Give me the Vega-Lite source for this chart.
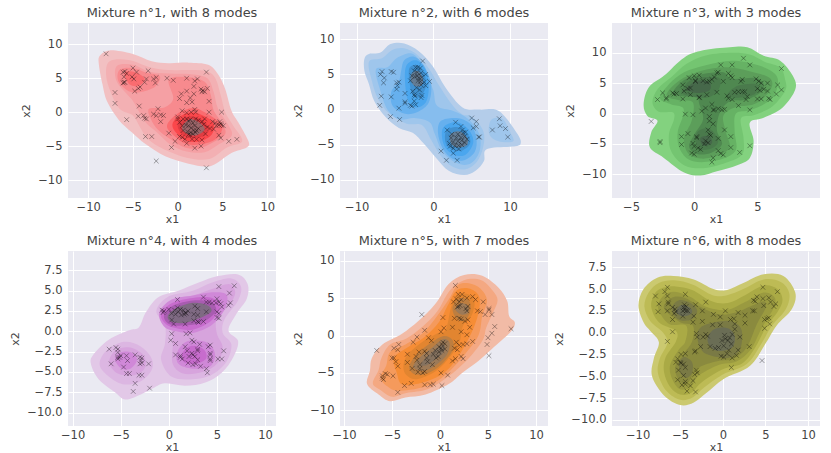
{"$schema":"https://vega.github.io/schema/vega-lite/v6.json","background":"white","padding":{"left":9,"top":7,"right":0,"bottom":3},"columns":3,"spacing":{"row":53,"column":64},"bounds":"flush","resolve":{"scale":{"color":"independent"}},"config":{"view":{"fill":"#EAEAF2","stroke":null},"font":"DejaVu Sans","axis":{"grid":true,"gridColor":"white","gridWidth":1,"domain":false,"ticks":false,"labelFont":"DejaVu Sans","labelFontSize":11.5,"labelColor":"#444444","labelPadding":6,"titleFont":"DejaVu Sans","titleFontSize":11,"titleFontWeight":"normal","titleColor":"#444444"},"axisX":{"labelPadding":3,"titlePadding":1},"axisY":{"labelPadding":6,"titlePadding":6},"title":{"font":"DejaVu Sans","fontSize":12.9,"fontWeight":"normal","color":"#444444","offset":3}},
"datasets":{
"c1":[{"l":0,"x":-8.7,"y":8.3},{"l":0,"x":-7.6,"y":9.1},{"l":0,"x":-5.1,"y":8.6},{"l":0,"x":-2.9,"y":7.5},{"l":0,"x":-1,"y":7.2},{"l":0,"x":1.2,"y":7.3},{"l":0,"x":3.4,"y":7},{"l":0,"x":4.5,"y":5.6},{"l":0,"x":5.3,"y":3.4},{"l":0,"x":6,"y":0.2},{"l":0,"x":6.9,"y":-1.8},{"l":0,"x":7.9,"y":-4.3},{"l":0,"x":7.7,"y":-5.2},{"l":0,"x":6,"y":-6},{"l":0,"x":4.1,"y":-7.7},{"l":0,"x":3,"y":-8},{"l":0,"x":1.2,"y":-7.6},{"l":0,"x":-1.4,"y":-6.5},{"l":0,"x":-3.6,"y":-4.7},{"l":0,"x":-5.1,"y":-3},{"l":0,"x":-6.6,"y":-1.1},{"l":0,"x":-7.9,"y":1.6},{"l":0,"x":-8.4,"y":4.1},{"l":0,"x":-8.8,"y":7},
{"l":1,"x":-7.6,"y":7.5},{"l":1,"x":-5.5,"y":7.7},{"l":1,"x":-3,"y":6.6},{"l":1,"x":-1,"y":6.2},{"l":1,"x":1.5,"y":6.2},{"l":1,"x":3.3,"y":6},{"l":1,"x":4.2,"y":5},{"l":1,"x":4.8,"y":2.5},{"l":1,"x":5.3,"y":0},{"l":1,"x":6.2,"y":-2},{"l":1,"x":7.2,"y":-4.3},{"l":1,"x":5.5,"y":-5.2},{"l":1,"x":3.5,"y":-6.9},{"l":1,"x":1,"y":-6.7},{"l":1,"x":-1.5,"y":-5.5},{"l":1,"x":-3.3,"y":-4},{"l":1,"x":-4.3,"y":-2},{"l":1,"x":-5,"y":-0.5},{"l":1,"x":-6.5,"y":0.5},{"l":1,"x":-7.5,"y":3},{"l":1,"x":-8,"y":5.5},
{"l":2,"x":-6.8,"y":6.8},{"l":2,"x":-5,"y":7},{"l":2,"x":-3.2,"y":6},{"l":2,"x":-1,"y":5.7},{"l":2,"x":1.5,"y":5.6},{"l":2,"x":3.3,"y":5},{"l":2,"x":4,"y":3},{"l":2,"x":4.5,"y":0.5},{"l":2,"x":5.7,"y":-2},{"l":2,"x":6,"y":-3.5},{"l":2,"x":4.5,"y":-4.8},{"l":2,"x":3,"y":-5.9},{"l":2,"x":1,"y":-5.8},{"l":2,"x":-0.8,"y":-4.8},{"l":2,"x":-2.3,"y":-3},{"l":2,"x":-3.6,"y":-1.5},{"l":2,"x":-4.5,"y":0.5},{"l":2,"x":-5.2,"y":2},{"l":2,"x":-6.8,"y":4.5},
{"l":3,"x":-1,"y":4.8},{"l":3,"x":1,"y":5.2},{"l":3,"x":3,"y":4.5},{"l":3,"x":3.7,"y":2.5},{"l":3,"x":4,"y":0.3},{"l":3,"x":5,"y":-1.7},{"l":3,"x":5.3,"y":-3.2},{"l":3,"x":4,"y":-4.4},{"l":3,"x":2.5,"y":-5.3},{"l":3,"x":0.8,"y":-5.2},{"l":3,"x":-0.8,"y":-4},{"l":3,"x":-2.2,"y":-2.6},{"l":3,"x":-3,"y":-1},{"l":3,"x":-3.2,"y":0.5},{"l":3,"x":-1.5,"y":0.7},{"l":3,"x":-0.5,"y":2},
{"l":3.1,"x":-6.5,"y":6.2},{"l":3.1,"x":-5,"y":6.5},{"l":3.1,"x":-3.5,"y":5.8},{"l":3.1,"x":-2,"y":5.3},{"l":3.1,"x":-2.5,"y":3.8},{"l":3.1,"x":-4,"y":3},{"l":3.1,"x":-5.3,"y":3},{"l":3.1,"x":-6.6,"y":4.5},
{"l":4,"x":0,"y":-0.2},{"l":4,"x":1.7,"y":0.6},{"l":4,"x":3,"y":0},{"l":4,"x":4.4,"y":-1.2},{"l":4,"x":5,"y":-2.2},{"l":4,"x":4.4,"y":-3.8},{"l":4,"x":2.8,"y":-4.7},{"l":4,"x":1,"y":-4.7},{"l":4,"x":-0.3,"y":-3.6},{"l":4,"x":-1.2,"y":-2},
{"l":4.1,"x":-5.9,"y":5.8},{"l":4.1,"x":-4.8,"y":5.9},{"l":4.1,"x":-3.7,"y":5},{"l":4.1,"x":-4.3,"y":3.9},{"l":4.1,"x":-5.4,"y":4.1},
{"l":5,"x":0,"y":-0.8},{"l":5,"x":1.5,"y":0},{"l":5,"x":3,"y":-0.6},{"l":5,"x":4,"y":-1.7},{"l":5,"x":3.8,"y":-3.3},{"l":5,"x":2.5,"y":-4.3},{"l":5,"x":1,"y":-4.2},{"l":5,"x":-0.2,"y":-3},{"l":5,"x":-0.6,"y":-1.8},
{"l":6,"x":0.3,"y":-1.2},{"l":6,"x":1.5,"y":-0.6},{"l":6,"x":2.8,"y":-1.2},{"l":6,"x":3.4,"y":-2.2},{"l":6,"x":3,"y":-3.4},{"l":6,"x":1.8,"y":-3.8},{"l":6,"x":0.6,"y":-3.4},{"l":6,"x":0,"y":-2.2},
{"l":7,"x":0.7,"y":-1.7},{"l":7,"x":1.5,"y":-1},{"l":7,"x":2.6,"y":-1.7},{"l":7,"x":3,"y":-2.6},{"l":7,"x":2.1,"y":-3.4},{"l":7,"x":1.1,"y":-3.2},{"l":7,"x":0.5,"y":-2.5}],
"p1":[{"x":-8,"y":8.6},{"x":-6.1,"y":5.9},{"x":-5.9,"y":6},{"x":-5.7,"y":5.7},{"x":-6,"y":5.2},{"x":-6,"y":4.4},{"x":-6.1,"y":4.3},{"x":-5.9,"y":4.4},{"x":-5,"y":6.5},{"x":-4.6,"y":5.9},{"x":-5.1,"y":5.2},{"x":-4.9,"y":4.9},{"x":-3.3,"y":6.1},{"x":-3.5,"y":4.9},{"x":-3.7,"y":4.4},{"x":-4.2,"y":3.7},{"x":-4.4,"y":3.5},{"x":-4.8,"y":3.1},{"x":-2.7,"y":4.9},{"x":-2.4,"y":5.1},{"x":-2.5,"y":4.3},{"x":-1.2,"y":5},{"x":-0.5,"y":4.7},{"x":1,"y":5},{"x":2.2,"y":4.9},{"x":1.9,"y":4.6},{"x":3.2,"y":5.9},{"x":-7,"y":2.9},{"x":-7,"y":1.3},{"x":-5.7,"y":-1.1},{"x":-4.3,"y":0.9},{"x":-4.4,"y":-0.6},{"x":-3.8,"y":-0.5},{"x":-3.7,"y":-0.9},{"x":-3.5,"y":-1},{"x":-2.7,"y":-0.3},{"x":-2.4,"y":-0.5},{"x":-2.2,"y":0.5},{"x":-1.9,"y":-0.4},{"x":-1.9,"y":-1.4},{"x":-1.6,"y":-0.5},{"x":-3.6,"y":-3.6},{"x":-2.9,"y":-3.6},{"x":-2.4,"y":-7.2},{"x":-1,"y":-3.1},{"x":-0.7,"y":-5.2},{"x":-0.3,"y":-4.3},{"x":0.2,"y":-3.6},{"x":0.2,"y":2},{"x":0.4,"y":2.7},{"x":1,"y":3.1},{"x":1.4,"y":2.1},{"x":1.8,"y":2.7},{"x":1.8,"y":3.8},{"x":2.6,"y":3.4},{"x":2.8,"y":3.2},{"x":2.7,"y":3},{"x":3,"y":3},{"x":3.3,"y":3.5},{"x":3.5,"y":1.6},{"x":1,"y":1.4},{"x":1.6,"y":1.5},{"x":3.5,"y":0},{"x":4.9,"y":0},{"x":0.5,"y":0.2},{"x":1,"y":-0.1},{"x":1.5,"y":0},{"x":1.9,"y":0.4},{"x":2,"y":0},{"x":0,"y":-0.7},{"x":0,"y":-1},{"x":0.2,"y":-1.5},{"x":0.6,"y":-1},{"x":1,"y":-1},{"x":1.2,"y":-1.3},{"x":1.4,"y":-1.1},{"x":1.7,"y":-1.6},{"x":2,"y":-1},{"x":2.3,"y":-1.2},{"x":2.7,"y":-1.4},{"x":2.9,"y":-1.8},{"x":0.5,"y":-2},{"x":0.9,"y":-1.9},{"x":1.2,"y":-2},{"x":1.5,"y":-2.3},{"x":1.9,"y":-2},{"x":2.3,"y":-2.4},{"x":0.6,"y":-2.7},{"x":1.1,"y":-2.9},{"x":1.4,"y":-3},{"x":1.8,"y":-2.7},{"x":2.1,"y":-2.7},{"x":1.2,"y":-3.3},{"x":1.4,"y":-3.4},{"x":1.7,"y":-3.2},{"x":2,"y":-3},{"x":0.5,"y":-3.7},{"x":0.8,"y":-4},{"x":1,"y":-4.6},{"x":1.6,"y":-4},{"x":2.1,"y":-4},{"x":2.7,"y":-4.1},{"x":1.9,"y":-5.3},{"x":2.6,"y":-5},{"x":3.1,"y":-3.2},{"x":3.6,"y":-2.4},{"x":3.9,"y":-1.4},{"x":4.2,"y":-1.6},{"x":4.3,"y":-2},{"x":4.6,"y":-1.9},{"x":4.8,"y":-1.7},{"x":5.1,"y":-2},{"x":4.7,"y":-1.4},{"x":4.9,"y":-1.9},{"x":4.6,"y":-3.4},{"x":4.8,"y":-3.8},{"x":5.7,"y":-4.3},{"x":6.6,"y":-4},{"x":3.2,"y":-8.2},{"x":4,"y":-2.5},{"x":3,"y":-1},{"x":3.3,"y":-2.2}],
"c2":[{"l":0,"x":-9,"y":7.2},{"l":0,"x":-8.4,"y":7.9},{"l":0,"x":-6.9,"y":8.1},{"l":0,"x":-5.6,"y":9.3},{"l":0,"x":-3.8,"y":9.4},{"l":0,"x":-1.9,"y":8.3},{"l":0,"x":-0.1,"y":6.2},{"l":0,"x":1.6,"y":3.1},{"l":0,"x":3.8,"y":0.3},{"l":0,"x":6,"y":0},{"l":0,"x":8.1,"y":0},{"l":0,"x":9.4,"y":-1.1},{"l":0,"x":11,"y":-3.5},{"l":0,"x":11.4,"y":-4.7},{"l":0,"x":10.7,"y":-5.2},{"l":0,"x":7,"y":-5.6},{"l":0,"x":6.6,"y":-7.3},{"l":0,"x":5.5,"y":-8.7},{"l":0,"x":4,"y":-9.3},{"l":0,"x":2,"y":-8.7},{"l":0,"x":0.3,"y":-6.8},{"l":0,"x":-1.2,"y":-4.9},{"l":0,"x":-2.7,"y":-3.3},{"l":0,"x":-4.5,"y":-2.6},{"l":0,"x":-6.2,"y":-1.1},{"l":0,"x":-7.7,"y":1.2},{"l":0,"x":-8.4,"y":3.6},{"l":0,"x":-9,"y":5.5},
{"l":1,"x":-8.4,"y":6.8},{"l":1,"x":-6.7,"y":7.3},{"l":1,"x":-5.3,"y":8.5},{"l":1,"x":-3.8,"y":8.7},{"l":1,"x":-2,"y":7.7},{"l":1,"x":-0.5,"y":5.7},{"l":1,"x":0.8,"y":3.3},{"l":1,"x":2.5,"y":0.6},{"l":1,"x":3.8,"y":-0.7},{"l":1,"x":5,"y":-1},{"l":1,"x":6.5,"y":-3},{"l":1,"x":6.5,"y":-5.3},{"l":1,"x":5.6,"y":-7.5},{"l":1,"x":4,"y":-8.5},{"l":1,"x":2.2,"y":-7.9},{"l":1,"x":0.8,"y":-6.3},{"l":1,"x":-0.3,"y":-4.3},{"l":1,"x":-1.5,"y":-2.2},{"l":1,"x":-3.5,"y":-2},{"l":1,"x":-5.8,"y":-0.5},{"l":1,"x":-7.2,"y":1.5},{"l":1,"x":-8,"y":4},
{"l":1.1,"x":7.5,"y":-1.5},{"l":1.1,"x":9,"y":-1.3},{"l":1.1,"x":10,"y":-3.2},{"l":1.1,"x":10.4,"y":-4.5},{"l":1.1,"x":8.5,"y":-4.5},{"l":1.1,"x":7.3,"y":-3.5},
{"l":2,"x":-7.5,"y":5.7},{"l":2,"x":-6,"y":6},{"l":2,"x":-4.8,"y":7.3},{"l":2,"x":-3,"y":8},{"l":2,"x":-1.8,"y":7},{"l":2,"x":-0.8,"y":5},{"l":2,"x":0,"y":2.7},{"l":2,"x":0.5,"y":0.5},{"l":2,"x":2.6,"y":-0.2},{"l":2,"x":4.5,"y":-1.3},{"l":2,"x":6,"y":-3.5},{"l":2,"x":6,"y":-6},{"l":2,"x":4.8,"y":-7.7},{"l":2,"x":3,"y":-7.6},{"l":2,"x":1.2,"y":-6},{"l":2,"x":0.2,"y":-3.5},{"l":2,"x":-0.5,"y":-1.8},{"l":2,"x":-2.5,"y":-1.2},{"l":2,"x":-4.5,"y":-1.4},{"l":2,"x":-6,"y":0},{"l":2,"x":-7,"y":3},
{"l":3,"x":-3.8,"y":7},{"l":3,"x":-2.5,"y":7.5},{"l":3,"x":-1.2,"y":6.2},{"l":3,"x":-0.3,"y":3.6},{"l":3,"x":-0.6,"y":1},{"l":3,"x":-2,"y":-0.3},{"l":3,"x":-3.7,"y":-0.6},{"l":3,"x":-5.3,"y":0.5},{"l":3,"x":-5.5,"y":2.5},{"l":3,"x":-4.5,"y":4},{"l":3,"x":-4.2,"y":5.5},
{"l":3.1,"x":1,"y":-1.6},{"l":3.1,"x":3,"y":-1.2},{"l":3.1,"x":4.8,"y":-2},{"l":3.1,"x":5.6,"y":-4},{"l":3.1,"x":5.4,"y":-6},{"l":3.1,"x":4,"y":-7.2},{"l":3.1,"x":2.5,"y":-7},{"l":3.1,"x":1.2,"y":-5.5},{"l":3.1,"x":0.6,"y":-3.3},
{"l":4,"x":-3.5,"y":6.3},{"l":4,"x":-2.2,"y":7},{"l":4,"x":-1,"y":5.6},{"l":4,"x":-0.6,"y":3.2},{"l":4,"x":-1,"y":1},{"l":4,"x":-2.3,"y":0.3},{"l":4,"x":-3.3,"y":1.3},{"l":4,"x":-3.7,"y":4},
{"l":4.1,"x":1.5,"y":-2.3},{"l":4.1,"x":3.2,"y":-1.8},{"l":4.1,"x":4.7,"y":-3},{"l":4.1,"x":5.2,"y":-4.7},{"l":4.1,"x":4.2,"y":-6.4},{"l":4.1,"x":2.7,"y":-6.4},{"l":4.1,"x":1.5,"y":-5.3},{"l":4.1,"x":1.1,"y":-3.5},
{"l":5,"x":-3.2,"y":5.6},{"l":5,"x":-2.2,"y":6.3},{"l":5,"x":-1.2,"y":5.2},{"l":5,"x":-1,"y":3.2},{"l":5,"x":-1.8,"y":1.8},{"l":5,"x":-2.8,"y":2.3},
{"l":5.1,"x":1.7,"y":-3},{"l":5.1,"x":3.2,"y":-2.5},{"l":5.1,"x":4.5,"y":-3.5},{"l":5.1,"x":4.8,"y":-4.8},{"l":5.1,"x":3.8,"y":-5.8},{"l":5.1,"x":2.4,"y":-5.7},{"l":5.1,"x":1.6,"y":-4.7},
{"l":6,"x":-2.9,"y":5},{"l":6,"x":-2.1,"y":5.5},{"l":6,"x":-1.4,"y":4.6},{"l":6,"x":-1.5,"y":3.5},{"l":6,"x":-2.3,"y":3.3},{"l":6,"x":-2.9,"y":4},
{"l":6.1,"x":2.2,"y":-3.6},{"l":6.1,"x":3.4,"y":-3.1},{"l":6.1,"x":4.4,"y":-4},{"l":6.1,"x":4.4,"y":-5},{"l":6.1,"x":3.4,"y":-5.4},{"l":6.1,"x":2.4,"y":-5}],
"p2":[{"x":-1.4,"y":6.9},{"x":-2.3,"y":6},{"x":-2,"y":6},{"x":-1.7,"y":5.9},{"x":-2.5,"y":5.5},{"x":-2.1,"y":5.3},{"x":-1.6,"y":5.2},{"x":-1,"y":5},{"x":-2.8,"y":4.8},{"x":-2.4,"y":4.7},{"x":-2.1,"y":4.8},{"x":-1.9,"y":4.5},{"x":-1.5,"y":4.6},{"x":-3,"y":4.1},{"x":-2,"y":4.1},{"x":-1.7,"y":4},{"x":-0.5,"y":4},{"x":-1.2,"y":3.9},{"x":-1.6,"y":3.5},{"x":-1,"y":3.4},{"x":-2.2,"y":3.1},{"x":-1.8,"y":2.8},{"x":-2.7,"y":2.6},{"x":-2.5,"y":2.1},{"x":-2.4,"y":1.9},{"x":-1.5,"y":2},{"x":-1.6,"y":1.7},{"x":-2.5,"y":1.2},{"x":-3.7,"y":2.3},{"x":-3.7,"y":1.1},{"x":-3.7,"y":0.9},{"x":-3,"y":0.6},{"x":-2.8,"y":0.5},{"x":-2.3,"y":0.7},{"x":-4.5,"y":3.9},{"x":-4.8,"y":3.8},{"x":-4.7,"y":3.4},{"x":-4.8,"y":2.9},{"x":-5.5,"y":5.4},{"x":-5.2,"y":5.3},{"x":-6.7,"y":5.4},{"x":-6.9,"y":5},{"x":-6.4,"y":4.5},{"x":-6.5,"y":3.8},{"x":-6.8,"y":1.9},{"x":-5.5,"y":1.8},{"x":-7,"y":0.6},{"x":-4.5,"y":0.2},{"x":-5.6,"y":-1},{"x":-4.4,"y":-1.4},{"x":5,"y":-1.2},{"x":5.6,"y":-1.7},{"x":5.6,"y":-2.4},{"x":5.2,"y":-2.6},{"x":4.2,"y":-3.2},{"x":3.8,"y":-2.9},{"x":3.6,"y":-2.4},{"x":2.9,"y":-1.8},{"x":1.8,"y":-2.9},{"x":2.4,"y":-3.5},{"x":3.2,"y":-3.5},{"x":3.9,"y":-3.3},{"x":2.3,"y":-4},{"x":3,"y":-4},{"x":3.6,"y":-4},{"x":4.1,"y":-3.8},{"x":4.4,"y":-4.2},{"x":5.9,"y":-3.9},{"x":6,"y":-3.9},{"x":2.1,"y":-4.8},{"x":2.6,"y":-4.6},{"x":3.2,"y":-4.5},{"x":3.7,"y":-4.4},{"x":4.1,"y":-4.7},{"x":2.2,"y":-5.2},{"x":2.8,"y":-5.1},{"x":3.3,"y":-5.1},{"x":3.7,"y":-5},{"x":2.6,"y":-5.5},{"x":3.3,"y":-5.6},{"x":1,"y":-5.9},{"x":2.6,"y":-6.2},{"x":1.7,"y":-7.2},{"x":3.1,"y":-7.2},{"x":7.7,"y":-2.9},{"x":8.6,"y":-1.3},{"x":8.7,"y":-2.3},{"x":9.4,"y":-2.7},{"x":9.7,"y":-3.9}],
"c3":[{"l":0,"x":-4,"y":1.5},{"l":0,"x":-3.6,"y":4.3},{"l":0,"x":-2.4,"y":6.2},{"l":0,"x":-0.8,"y":9.2},{"l":0,"x":0.7,"y":10.4},{"l":0,"x":2.8,"y":10.9},{"l":0,"x":4.2,"y":10.9},{"l":0,"x":5.5,"y":9.5},{"l":0,"x":6.8,"y":8.7},{"l":0,"x":7.8,"y":6.2},{"l":0,"x":8,"y":4},{"l":0,"x":7,"y":1},{"l":0,"x":5.5,"y":-0.7},{"l":0,"x":4.4,"y":-1.5},{"l":0,"x":4.7,"y":-4.5},{"l":0,"x":4.4,"y":-7.3},{"l":0,"x":3.4,"y":-8.5},{"l":0,"x":1.8,"y":-9.5},{"l":0,"x":0.5,"y":-10.2},{"l":0,"x":-0.8,"y":-9.7},{"l":0,"x":-2.4,"y":-7.3},{"l":0,"x":-3.5,"y":-5.6},{"l":0,"x":-3.4,"y":-3.1},{"l":0,"x":-2.9,"y":-1.2},{"l":0,"x":-3.7,"y":-0.4},
{"l":1,"x":-3.3,"y":1.8},{"l":1,"x":-2.9,"y":4},{"l":1,"x":-1.8,"y":6},{"l":1,"x":-0.6,"y":8.2},{"l":1,"x":1,"y":9.6},{"l":1,"x":3,"y":10},{"l":1,"x":4.4,"y":9.7},{"l":1,"x":5.6,"y":8.5},{"l":1,"x":6.8,"y":7.6},{"l":1,"x":7.2,"y":5.5},{"l":1,"x":7.2,"y":3.8},{"l":1,"x":6.2,"y":1.2},{"l":1,"x":4.7,"y":-0.3},{"l":1,"x":3.7,"y":-0.8},{"l":1,"x":3.9,"y":-4},{"l":1,"x":3.8,"y":-6.7},{"l":1,"x":2.5,"y":-8.1},{"l":1,"x":0.7,"y":-9},{"l":1,"x":-0.8,"y":-8.5},{"l":1,"x":-1.8,"y":-6.3},{"l":1,"x":-2,"y":-3.5},{"l":1,"x":-1.6,"y":-1},{"l":1,"x":-1.7,"y":0.2},{"l":1,"x":-2.8,"y":0.3},
{"l":2,"x":-2.7,"y":2.5},{"l":2,"x":-2,"y":4.8},{"l":2,"x":-0.8,"y":6.8},{"l":2,"x":1,"y":8},{"l":2,"x":3,"y":8.7},{"l":2,"x":5,"y":8},{"l":2,"x":6.4,"y":6.5},{"l":2,"x":6.6,"y":4.5},{"l":2,"x":6,"y":2.2},{"l":2,"x":4.5,"y":0.6},{"l":2,"x":3.3,"y":0},{"l":2,"x":3.2,"y":-3},{"l":2,"x":3.3,"y":-6},{"l":2,"x":2.2,"y":-7.5},{"l":2,"x":0.6,"y":-8},{"l":2,"x":-0.5,"y":-7.5},{"l":2,"x":-1.2,"y":-5.5},{"l":2,"x":-1.3,"y":-3},{"l":2,"x":-0.9,"y":-0.5},{"l":2,"x":-0.9,"y":1},{"l":2,"x":-1.8,"y":1.5},
{"l":3,"x":-2.2,"y":3},{"l":3,"x":-1.2,"y":5.4},{"l":3,"x":0.5,"y":7},{"l":3,"x":2.5,"y":7.6},{"l":3,"x":4.3,"y":7},{"l":3,"x":6,"y":5.8},{"l":3,"x":6,"y":3.8},{"l":3,"x":4.8,"y":1.6},{"l":3,"x":3.2,"y":1},{"l":3,"x":2.3,"y":-0.4},{"l":3,"x":2.5,"y":-3},{"l":3,"x":2.8,"y":-5.6},{"l":3,"x":1.8,"y":-7},{"l":3,"x":0.5,"y":-7.4},{"l":3,"x":-0.5,"y":-6.5},{"l":3,"x":-0.8,"y":-4},{"l":3,"x":-0.2,"y":-1.2},{"l":3,"x":-0.1,"y":1.8},{"l":3,"x":-1.2,"y":2.2},
{"l":4,"x":-1.7,"y":3.3},{"l":4,"x":-0.8,"y":5.5},{"l":4,"x":0.7,"y":6.5},{"l":4,"x":2.3,"y":6.8},{"l":4,"x":3,"y":5.7},{"l":4,"x":5,"y":5.8},{"l":4,"x":5.5,"y":4},{"l":4,"x":4.2,"y":2.3},{"l":4,"x":2.8,"y":2},{"l":4,"x":2,"y":0},{"l":4,"x":1.8,"y":-2.8},{"l":4,"x":2.2,"y":-5},{"l":4,"x":1.4,"y":-6.4},{"l":4,"x":0.3,"y":-6.7},{"l":4,"x":-0.4,"y":-5.5},{"l":4,"x":0,"y":-3.5},{"l":4,"x":0.7,"y":-1},{"l":4,"x":0.4,"y":1.6},{"l":4,"x":0.2,"y":2.8},{"l":4,"x":-0.8,"y":2.8},
{"l":5,"x":-1,"y":3.5},{"l":5,"x":-0.4,"y":5.3},{"l":5,"x":0.8,"y":6},{"l":5,"x":2,"y":5.8},{"l":5,"x":1.9,"y":3.8},{"l":5,"x":1,"y":2.6},{"l":5,"x":-0.2,"y":2.8},
{"l":5.1,"x":0.2,"y":-3.2},{"l":5.1,"x":1.2,"y":-2.5},{"l":5.1,"x":1.9,"y":-4.5},{"l":5.1,"x":1.3,"y":-5.8},{"l":5.1,"x":0.3,"y":-5.7},
{"l":5.2,"x":2.6,"y":3},{"l":5.2,"x":3.5,"y":4.6},{"l":5.2,"x":5,"y":4.8},{"l":5.2,"x":4.8,"y":3.2},{"l":5.2,"x":3.5,"y":2.6},
{"l":6,"x":-0.6,"y":4},{"l":6,"x":0.2,"y":5.4},{"l":6,"x":1.2,"y":5.2},{"l":6,"x":1.2,"y":3.8},{"l":6,"x":0.2,"y":3.4},
{"l":6.1,"x":0.5,"y":-4},{"l":6.1,"x":1.2,"y":-3.7},{"l":6.1,"x":1.4,"y":-4.9},{"l":6.1,"x":0.7,"y":-5.3}],
"p3":[{"x":-3.4,"y":-1.3},{"x":-2.9,"y":2.3},{"x":-2.5,"y":3.4},{"x":-2.2,"y":2.6},{"x":-2.2,"y":2.4},{"x":-1.7,"y":3.4},{"x":-1.6,"y":3.2},{"x":-1.4,"y":3.3},{"x":-0.9,"y":2.4},{"x":-0.8,"y":3.7},{"x":-0.5,"y":4.1},{"x":-0.9,"y":4.7},{"x":-0.3,"y":3.1},{"x":-0.3,"y":4.2},{"x":0,"y":6.2},{"x":-0.4,"y":5.9},{"x":0.1,"y":5.4},{"x":0.4,"y":6.3},{"x":0.1,"y":5.3},{"x":0.4,"y":2.7},{"x":0.4,"y":2.6},{"x":1,"y":3.1},{"x":0.7,"y":5.4},{"x":1,"y":5.2},{"x":1.2,"y":5.3},{"x":1.4,"y":5.6},{"x":1.6,"y":6},{"x":1.8,"y":6.7},{"x":1.9,"y":6.8},{"x":2.1,"y":8},{"x":3,"y":8},{"x":3.9,"y":9.1},{"x":4.4,"y":8},{"x":6.9,"y":7.4},{"x":2.7,"y":6.6},{"x":2.9,"y":6.2},{"x":3,"y":5.9},{"x":2.3,"y":5.3},{"x":1.8,"y":3.5},{"x":1.4,"y":1.5},{"x":1.5,"y":0.6},{"x":1.6,"y":0.6},{"x":1.9,"y":0.8},{"x":2.2,"y":0.6},{"x":2.4,"y":0.7},{"x":0.6,"y":0.4},{"x":0.9,"y":0.9},{"x":-0.7,"y":-0.1},{"x":-0.1,"y":-0.2},{"x":1.2,"y":-0.5},{"x":1.2,"y":-1.2},{"x":1.5,"y":-1.7},{"x":1.1,"y":-2.7},{"x":2.4,"y":-2.7},{"x":2.9,"y":-3.8},{"x":2.6,"y":2.9},{"x":2.7,"y":2.5},{"x":3,"y":2.3},{"x":3.2,"y":3.5},{"x":3.5,"y":3.6},{"x":3.8,"y":3.6},{"x":4,"y":3.6},{"x":3.5,"y":1.3},{"x":4.2,"y":2.8},{"x":4.1,"y":2.3},{"x":4.4,"y":0.6},{"x":3.8,"y":5.6},{"x":3.7,"y":5.3},{"x":4.9,"y":5.7},{"x":5.1,"y":5.3},{"x":5.3,"y":5},{"x":5.8,"y":5},{"x":5,"y":4.1},{"x":5.2,"y":3.8},{"x":5.5,"y":4},{"x":5.8,"y":3.7},{"x":5,"y":2.4},{"x":5.3,"y":2.4},{"x":5.9,"y":2.5},{"x":6,"y":2.3},{"x":6.5,"y":3.2},{"x":6.6,"y":4.7},{"x":6.9,"y":3.9},{"x":-2.7,"y":-4.6},{"x":-2.7,"y":-4.8},{"x":-1,"y":-3.8},{"x":-0.5,"y":-3.3},{"x":-1,"y":-5.1},{"x":0.2,"y":-3.8},{"x":0.2,"y":-4},{"x":-0.1,"y":-4.9},{"x":0,"y":-5.4},{"x":0.3,"y":-5.7},{"x":0.5,"y":-5.9},{"x":-0.2,"y":-6.5},{"x":0,"y":-6.7},{"x":0.9,"y":-4.5},{"x":0.8,"y":-5},{"x":1.2,"y":-3.4},{"x":1.3,"y":-3.6},{"x":1.1,"y":-4.8},{"x":1.9,"y":-4.1},{"x":1.9,"y":-6.1},{"x":2.1,"y":-6.6},{"x":2.3,"y":-6.8},{"x":1.5,"y":-7.3},{"x":1.4,"y":-8},{"x":2.9,"y":-5.6},{"x":3.6,"y":-6.4},{"x":4.4,"y":-5.3}],
"c4":[{"l":0,"x":-8.1,"y":-4},{"l":0,"x":-7.8,"y":-2.8},{"l":0,"x":-6.2,"y":-1},{"l":0,"x":-4.2,"y":0.1},{"l":0,"x":-3.1,"y":0.5},{"l":0,"x":-2.4,"y":2.3},{"l":0,"x":-1.1,"y":4.2},{"l":0,"x":1,"y":5},{"l":0,"x":3.1,"y":6},{"l":0,"x":5.1,"y":6.8},{"l":0,"x":7.2,"y":7},{"l":0,"x":8.2,"y":5.8},{"l":0,"x":8.1,"y":4},{"l":0,"x":7,"y":2.1},{"l":0,"x":6.2,"y":0.1},{"l":0,"x":7.2,"y":-1.2},{"l":0,"x":6.7,"y":-3.2},{"l":0,"x":5.5,"y":-5.1},{"l":0,"x":3.8,"y":-6.3},{"l":0,"x":1.7,"y":-6.7},{"l":0,"x":-0.4,"y":-6.4},{"l":0,"x":-1.8,"y":-7.1},{"l":0,"x":-2.8,"y":-7.7},{"l":0,"x":-4.5,"y":-8.4},{"l":0,"x":-5.6,"y":-7.5},{"l":0,"x":-7.3,"y":-5.9},
{"l":1,"x":-7.2,"y":-4},{"l":1,"x":-6.5,"y":-2.4},{"l":1,"x":-4.7,"y":-1.3},{"l":1,"x":-3,"y":-1.8},{"l":1,"x":-1.8,"y":-3.3},{"l":1,"x":-1.8,"y":-4.8},{"l":1,"x":-3,"y":-6.2},{"l":1,"x":-4.8,"y":-6.5},{"l":1,"x":-6.5,"y":-5.3},
{"l":1.1,"x":-1.3,"y":2.5},{"l":1.1,"x":0,"y":4.3},{"l":1.1,"x":2.5,"y":5},{"l":1.1,"x":4.5,"y":6},{"l":1.1,"x":6.5,"y":6.5},{"l":1.1,"x":7.5,"y":5.5},{"l":1.1,"x":7.2,"y":3.8},{"l":1.1,"x":5.8,"y":1.5},{"l":1.1,"x":5.6,"y":-0.2},{"l":1.1,"x":6.5,"y":-1.6},{"l":1.1,"x":6,"y":-3.7},{"l":1.1,"x":4.5,"y":-5.3},{"l":1.1,"x":2.5,"y":-5.9},{"l":1.1,"x":0.3,"y":-5.6},{"l":1.1,"x":-0.8,"y":-3.5},{"l":1.1,"x":-0.4,"y":-1.5},{"l":1.1,"x":-0.4,"y":0.7},
{"l":2,"x":-6.2,"y":-3.8},{"l":2,"x":-5.5,"y":-2.3},{"l":2,"x":-4,"y":-2},{"l":2,"x":-2.6,"y":-3},{"l":2,"x":-2.5,"y":-4.5},{"l":2,"x":-3.6,"y":-5.4},{"l":2,"x":-5.3,"y":-5.2},
{"l":2.1,"x":-0.9,"y":2.3},{"l":2.1,"x":0.3,"y":3.8},{"l":2.1,"x":2.5,"y":4.4},{"l":2.1,"x":4.5,"y":5.2},{"l":2.1,"x":6.3,"y":5.8},{"l":2.1,"x":6.9,"y":4.8},{"l":2.1,"x":6.3,"y":3.2},{"l":2.1,"x":5,"y":1.6},{"l":2.1,"x":5,"y":-0.3},{"l":2.1,"x":5.6,"y":-2},{"l":2.1,"x":5,"y":-4},{"l":2.1,"x":3.5,"y":-5},{"l":2.1,"x":1.5,"y":-5.2},{"l":2.1,"x":0.4,"y":-4},{"l":2.1,"x":0.4,"y":-1.6},{"l":2.1,"x":0.2,"y":0.5},
{"l":3,"x":-5.6,"y":-3.4},{"l":3,"x":-5,"y":-2.6},{"l":3,"x":-3.9,"y":-2.6},{"l":3,"x":-3.3,"y":-3.5},{"l":3,"x":-4,"y":-4.6},{"l":3,"x":-5,"y":-4.5},
{"l":3.1,"x":-1,"y":2.3},{"l":3.1,"x":0.3,"y":3.9},{"l":3.1,"x":2.5,"y":4.4},{"l":3.1,"x":4.5,"y":4.8},{"l":3.1,"x":6,"y":4.5},{"l":3.1,"x":5.8,"y":2.7},{"l":3.1,"x":4.5,"y":0.8},{"l":3.1,"x":2.5,"y":-0.2},{"l":3.1,"x":0.8,"y":0},{"l":3.1,"x":-0.5,"y":0.6},
{"l":3.2,"x":0.9,"y":-2.5},{"l":3.2,"x":2,"y":-1.2},{"l":3.2,"x":4,"y":-1.4},{"l":3.2,"x":4.8,"y":-2.8},{"l":3.2,"x":4.3,"y":-4.3},{"l":3.2,"x":2.5,"y":-4.6},{"l":3.2,"x":1,"y":-4},
{"l":4,"x":-0.8,"y":2.2},{"l":4,"x":0.4,"y":3.5},{"l":4,"x":2.5,"y":4.1},{"l":4,"x":4.5,"y":4.1},{"l":4,"x":5.3,"y":3},{"l":4,"x":4.4,"y":1.3},{"l":4,"x":2.5,"y":0.2},{"l":4,"x":0.7,"y":0.4},{"l":4,"x":-0.4,"y":1},
{"l":4.1,"x":1.4,"y":-2.7},{"l":4.1,"x":2.3,"y":-1.8},{"l":4.1,"x":3.6,"y":-2.2},{"l":4.1,"x":3.9,"y":-3.3},{"l":4.1,"x":2.8,"y":-4},{"l":4.1,"x":1.6,"y":-3.8},
{"l":5,"x":-0.5,"y":2},{"l":5,"x":0.5,"y":3.2},{"l":5,"x":2.5,"y":3.8},{"l":5,"x":4.3,"y":3.6},{"l":5,"x":4.9,"y":2.5},{"l":5,"x":3.5,"y":1.1},{"l":5,"x":1.5,"y":0.7},{"l":5,"x":0,"y":0.9},
{"l":6,"x":-0.1,"y":1.9},{"l":6,"x":0.7,"y":2.8},{"l":6,"x":2.5,"y":3.5},{"l":6,"x":4,"y":3.2},{"l":6,"x":4.4,"y":2.4},{"l":6,"x":3,"y":1.5},{"l":6,"x":1.5,"y":1},{"l":6,"x":0.2,"y":1.2}],
"p4":[{"x":-6.2,"y":-2.2},{"x":-6,"y":-4},{"x":-5.5,"y":-2},{"x":-5.3,"y":-2.2},{"x":-5.3,"y":-2.6},{"x":-5.3,"y":-3.2},{"x":-5.3,"y":-3.4},{"x":-5,"y":-3},{"x":-5.1,"y":-3.2},{"x":-4.7,"y":-4.4},{"x":-4.4,"y":-3},{"x":-4.3,"y":-3.6},{"x":-4.4,"y":-5.2},{"x":-4.1,"y":-5.2},{"x":-3.5,"y":-2.9},{"x":-3,"y":-3.2},{"x":-2.8,"y":-3.3},{"x":-2.9,"y":-3.6},{"x":-3,"y":-4},{"x":-2.8,"y":-3.9},{"x":-2.1,"y":-4},{"x":-3.1,"y":-5.4},{"x":-2.8,"y":-5.4},{"x":-3.5,"y":-6.4},{"x":-3.7,"y":-7.4},{"x":-2,"y":-7},{"x":-0.7,"y":2.6},{"x":-0.6,"y":2.3},{"x":-0.5,"y":2.5},{"x":0,"y":2.7},{"x":0.3,"y":2.2},{"x":0.6,"y":2.6},{"x":0.7,"y":2.1},{"x":0.9,"y":3.9},{"x":0.9,"y":2.9},{"x":1,"y":2.4},{"x":1.2,"y":2.7},{"x":1.3,"y":2},{"x":1.5,"y":2.6},{"x":1.6,"y":2.1},{"x":1.7,"y":2.3},{"x":1.8,"y":2.2},{"x":2,"y":2.5},{"x":0.3,"y":1.4},{"x":0.5,"y":0.9},{"x":1.7,"y":0.9},{"x":2.6,"y":1.3},{"x":2.6,"y":2.1},{"x":2.7,"y":3.1},{"x":3,"y":2.8},{"x":3,"y":2},{"x":3,"y":1.2},{"x":3.1,"y":1.1},{"x":3.6,"y":1.2},{"x":3.9,"y":2.4},{"x":3.6,"y":4.2},{"x":3.9,"y":3.6},{"x":4.2,"y":3.6},{"x":4.5,"y":3.5},{"x":4.9,"y":3.5},{"x":5,"y":4},{"x":5.2,"y":3.6},{"x":5.4,"y":3.4},{"x":5.5,"y":3},{"x":5.2,"y":5.5},{"x":6.3,"y":4.7},{"x":6.8,"y":5.6},{"x":6.2,"y":3.2},{"x":6.4,"y":3.5},{"x":5,"y":2.4},{"x":5.2,"y":2.2},{"x":5,"y":1.7},{"x":5.2,"y":1.6},{"x":0.3,"y":-0.3},{"x":0.2,"y":-1.1},{"x":0.7,"y":-1.5},{"x":1.8,"y":-0.3},{"x":2.2,"y":-0.2},{"x":2.4,"y":-1.1},{"x":2.6,"y":-1.3},{"x":3.2,"y":-1.6},{"x":4.1,"y":-1.9},{"x":4.3,"y":-1.7},{"x":1.7,"y":-1.9},{"x":1.9,"y":-2.4},{"x":2.4,"y":-2.7},{"x":3,"y":-2.4},{"x":3,"y":-2.2},{"x":0.7,"y":-2.9},{"x":1.2,"y":-3},{"x":1.2,"y":-3.2},{"x":1.4,"y":-3.4},{"x":2.1,"y":-3.1},{"x":2.5,"y":-2.9},{"x":2.7,"y":-3.1},{"x":3,"y":-3.5},{"x":4.3,"y":-2.7},{"x":4.3,"y":-2.9},{"x":4.3,"y":-3.4},{"x":4.3,"y":-3.6},{"x":5.1,"y":-3.4},{"x":5.5,"y":-3.4},{"x":5.7,"y":-2.4},{"x":2,"y":-3.9},{"x":2.5,"y":-4.1},{"x":2.8,"y":-4},{"x":3.3,"y":-4.3},{"x":3.9,"y":-4.6},{"x":4,"y":-5.1}],
"c5":[{"l":0,"x":-7.6,"y":-6.5},{"l":0,"x":-7.3,"y":-4.7},{"l":0,"x":-7.1,"y":-3},{"l":0,"x":-6,"y":-1.2},{"l":0,"x":-4,"y":0.2},{"l":0,"x":-2.2,"y":2},{"l":0,"x":-0.5,"y":4.2},{"l":0,"x":0.9,"y":6.9},{"l":0,"x":2.5,"y":8.1},{"l":0,"x":4.4,"y":8},{"l":0,"x":6.1,"y":6.4},{"l":0,"x":7,"y":4.6},{"l":0,"x":7.2,"y":2.6},{"l":0,"x":7.8,"y":1.7},{"l":0,"x":7.3,"y":0.4},{"l":0,"x":5.4,"y":-1.8},{"l":0,"x":4,"y":-3.4},{"l":0,"x":2.3,"y":-5},{"l":0,"x":0.9,"y":-6.5},{"l":0,"x":-1.5,"y":-7.9},{"l":0,"x":-3.6,"y":-8.3},{"l":0,"x":-5.2,"y":-8.8},{"l":0,"x":-6.4,"y":-7.9},
{"l":1,"x":-7,"y":-6.4},{"l":1,"x":-6.4,"y":-4.6},{"l":1,"x":-6.1,"y":-3},{"l":1,"x":-5.2,"y":-1.2},{"l":1,"x":-3.5,"y":-0.4},{"l":1,"x":-1.8,"y":1.2},{"l":1,"x":-0.3,"y":3.2},{"l":1,"x":1,"y":6},{"l":1,"x":2.5,"y":7.4},{"l":1,"x":4.3,"y":7.4},{"l":1,"x":5.5,"y":6},{"l":1,"x":6,"y":4.7},{"l":1,"x":5.5,"y":3},{"l":1,"x":4.8,"y":1},{"l":1,"x":4.5,"y":-0.5},{"l":1,"x":3.3,"y":-2.6},{"l":1,"x":1.8,"y":-4.5},{"l":1,"x":0.5,"y":-5.8},{"l":1,"x":-1.3,"y":-7.2},{"l":1,"x":-3.5,"y":-7.7},{"l":1,"x":-5,"y":-8.2},{"l":1,"x":-6.2,"y":-7.3},
{"l":2,"x":-6.2,"y":-5.6},{"l":2,"x":-5.6,"y":-4},{"l":2,"x":-5.2,"y":-2.2},{"l":2,"x":-3.6,"y":-1.2},{"l":2,"x":-1.8,"y":0.3},{"l":2,"x":-0.3,"y":2.6},{"l":2,"x":0.9,"y":4.8},{"l":2,"x":1.8,"y":6.7},{"l":2,"x":3,"y":7},{"l":2,"x":4.2,"y":6.3},{"l":2,"x":4.9,"y":4.7},{"l":2,"x":4.4,"y":2.6},{"l":2,"x":4,"y":0},{"l":2,"x":2.6,"y":-2.5},{"l":2,"x":1.2,"y":-4.5},{"l":2,"x":-0.2,"y":-6},{"l":2,"x":-2,"y":-7},{"l":2,"x":-4.4,"y":-7.4},{"l":2,"x":-5.5,"y":-6.8},
{"l":3,"x":-4.5,"y":-5},{"l":3,"x":-4.8,"y":-3},{"l":3,"x":-3.4,"y":-1.6},{"l":3,"x":-1.6,"y":-0.2},{"l":3,"x":-0.1,"y":1.8},{"l":3,"x":0.8,"y":4},{"l":3,"x":1.7,"y":6},{"l":3,"x":3,"y":6.3},{"l":3,"x":4,"y":5.4},{"l":3,"x":4.1,"y":3.6},{"l":3,"x":3.5,"y":1},{"l":3,"x":2.3,"y":-2},{"l":3,"x":1,"y":-4.3},{"l":3,"x":-0.4,"y":-5.6},{"l":3,"x":-2.5,"y":-6.5},{"l":3,"x":-4,"y":-6.5},
{"l":4,"x":-3.8,"y":-4.5},{"l":4,"x":-3.5,"y":-2.8},{"l":4,"x":-2,"y":-1},{"l":4,"x":-0.4,"y":0.2},{"l":4,"x":0.6,"y":0.8},{"l":4,"x":1.2,"y":4},{"l":4,"x":1.9,"y":5.4},{"l":4,"x":3,"y":5.5},{"l":4,"x":3.6,"y":4.5},{"l":4,"x":3.3,"y":2.7},{"l":4,"x":2.4,"y":1.3},{"l":4,"x":2,"y":-1},{"l":4,"x":0.8,"y":-3.2},{"l":4,"x":-0.5,"y":-4.8},{"l":4,"x":-2.3,"y":-5.8},{"l":4,"x":-3.3,"y":-5.5},
{"l":5,"x":-3.2,"y":-4.2},{"l":5,"x":-2.5,"y":-2.6},{"l":5,"x":-1.2,"y":-1.2},{"l":5,"x":0.3,"y":-0.1},{"l":5,"x":1.3,"y":-0.6},{"l":5,"x":1.3,"y":-2},{"l":5,"x":0.2,"y":-3.8},{"l":5,"x":-1.2,"y":-5},{"l":5,"x":-2.6,"y":-5.2},
{"l":5.1,"x":1.3,"y":3.6},{"l":5.1,"x":1.9,"y":4.9},{"l":5.1,"x":2.9,"y":4.8},{"l":5.1,"x":3.2,"y":3.6},{"l":5.1,"x":2.7,"y":2.1},{"l":5.1,"x":1.8,"y":2.1},
{"l":6,"x":-2.8,"y":-4.2},{"l":6,"x":-2,"y":-2.8},{"l":6,"x":-0.8,"y":-1.6},{"l":6,"x":0.3,"y":-0.5},{"l":6,"x":1,"y":-1},{"l":6,"x":0.7,"y":-2.6},{"l":6,"x":-0.5,"y":-4},{"l":6,"x":-1.7,"y":-4.7},
{"l":6.1,"x":1.6,"y":3.5},{"l":6.1,"x":2.2,"y":4.3},{"l":6.1,"x":2.9,"y":4},{"l":6.1,"x":2.9,"y":3},{"l":6.1,"x":2.2,"y":2.8},
{"l":7,"x":-2,"y":-3.8},{"l":7,"x":-0.8,"y":-2.2},{"l":7,"x":0.4,"y":-1.2},{"l":7,"x":0.4,"y":-2.2},{"l":7,"x":-0.7,"y":-3.4},{"l":7,"x":-1.5,"y":-4}],
"p5":[{"x":-6.6,"y":-2},{"x":-6,"y":-5.4},{"x":-6,"y":-5.7},{"x":-5.9,"y":-5.9},{"x":-5.7,"y":-5.1},{"x":-5.5,"y":-5.2},{"x":-4.9,"y":-5.4},{"x":-5,"y":-3},{"x":-4.8,"y":-3},{"x":-4.8,"y":-1.7},{"x":-4.6,"y":-3.5},{"x":-4.4,"y":-4.1},{"x":-4.4,"y":-1.9},{"x":-4.3,"y":-1.2},{"x":-3.7,"y":-6.7},{"x":-3,"y":-6.4},{"x":-4.4,"y":-7.6},{"x":-3.4,"y":-2.5},{"x":-3.4,"y":-3.6},{"x":-2.9,"y":-4.4},{"x":-2.8,"y":-0.9},{"x":-2.4,"y":-0.2},{"x":-1.9,"y":2.8},{"x":-1.6,"y":0.7},{"x":-2.5,"y":-2.8},{"x":-2.4,"y":-3.3},{"x":-2.2,"y":-2.2},{"x":-2.1,"y":-3.9},{"x":-2.1,"y":-4.4},{"x":-2.3,"y":-4.9},{"x":-1.8,"y":-5},{"x":-1.6,"y":-4.8},{"x":-1.6,"y":-2.1},{"x":-1.4,"y":-2.4},{"x":-1.4,"y":-3},{"x":-1.3,"y":-3.5},{"x":-0.8,"y":-3.9},{"x":-1.2,"y":-0.3},{"x":-0.9,"y":-0.7},{"x":-0.7,"y":-2.5},{"x":-0.5,"y":-2},{"x":-0.4,"y":-3},{"x":-0.2,"y":-2.8},{"x":-0.1,"y":-2.2},{"x":0.1,"y":-1.7},{"x":0.2,"y":-1.2},{"x":0.3,"y":-0.9},{"x":0.5,"y":-1.1},{"x":-0.1,"y":-1.5},{"x":0.2,"y":-2},{"x":0.5,"y":-1.8},{"x":-1.6,"y":-6.6},{"x":-1,"y":-6.6},{"x":-0.7,"y":-6.5},{"x":0.2,"y":-6.7},{"x":0.1,"y":-5},{"x":0.8,"y":-5.3},{"x":1.3,"y":-3.4},{"x":1.6,"y":-3.1},{"x":1.5,"y":-1.7},{"x":1.8,"y":-1.9},{"x":1.7,"y":-0.9},{"x":2,"y":-1.3},{"x":2.2,"y":-2.8},{"x":2.4,"y":-3.1},{"x":2.4,"y":-1.2},{"x":2.8,"y":-1.1},{"x":3.4,"y":-0.8},{"x":0.1,"y":0.5},{"x":0.4,"y":1},{"x":1.3,"y":1.1},{"x":2.2,"y":0.5},{"x":2.8,"y":0.1},{"x":3.1,"y":1.1},{"x":0.3,"y":2.4},{"x":1.5,"y":2.3},{"x":2,"y":2.3},{"x":2.2,"y":2.2},{"x":2.6,"y":1.9},{"x":2.9,"y":2.1},{"x":1.4,"y":4.5},{"x":1.9,"y":5.5},{"x":2.3,"y":5.5},{"x":1.7,"y":4.9},{"x":2,"y":4.5},{"x":2.2,"y":4.8},{"x":1.8,"y":3.8},{"x":1.9,"y":3.9},{"x":2.1,"y":4},{"x":2.7,"y":3.6},{"x":2.9,"y":3.9},{"x":2.8,"y":3.3},{"x":3.4,"y":5.2},{"x":2.8,"y":5},{"x":3.7,"y":4.8},{"x":4.5,"y":4.5},{"x":3.9,"y":3.3},{"x":4.2,"y":3.2},{"x":4.7,"y":2.8},{"x":5.1,"y":3.6},{"x":5.1,"y":3.4},{"x":5.4,"y":2.8},{"x":5.7,"y":1.2},{"x":5,"y":-0.3},{"x":5.4,"y":0.3},{"x":4.9,"y":-1.2},{"x":5.1,"y":-2.7},{"x":7.4,"y":0.9},{"x":1.6,"y":6.7}],
"c6":[{"l":0,"x":-9.9,"y":3.1},{"l":0,"x":-9.3,"y":5},{"l":0,"x":-7.7,"y":6.3},{"l":0,"x":-5.8,"y":6.5},{"l":0,"x":-3.4,"y":6.1},{"l":0,"x":-1.1,"y":5},{"l":0,"x":0.5,"y":4.9},{"l":0,"x":2.4,"y":5.7},{"l":0,"x":4.8,"y":6.7},{"l":0,"x":7.1,"y":6.5},{"l":0,"x":8.5,"y":4.6},{"l":0,"x":8.1,"y":2.7},{"l":0,"x":6.3,"y":0.8},{"l":0,"x":5.1,"y":-1.1},{"l":0,"x":3.2,"y":-3.8},{"l":0,"x":0.1,"y":-5.3},{"l":0,"x":-1.9,"y":-6.9},{"l":0,"x":-3.4,"y":-8},{"l":0,"x":-5,"y":-8.3},{"l":0,"x":-6.9,"y":-7.2},{"l":0,"x":-8.3,"y":-5},{"l":0,"x":-8.1,"y":-3},{"l":0,"x":-7.5,"y":-1.1},{"l":0,"x":-8.5,"y":0.2},{"l":0,"x":-9.3,"y":1.2},
{"l":1,"x":-9.2,"y":3},{"l":1,"x":-8.7,"y":4.6},{"l":1,"x":-7.5,"y":5.7},{"l":1,"x":-5.7,"y":6},{"l":1,"x":-3.5,"y":5.5},{"l":1,"x":-1.2,"y":4.3},{"l":1,"x":0.5,"y":4.3},{"l":1,"x":2.4,"y":5},{"l":1,"x":4.8,"y":6.1},{"l":1,"x":6.8,"y":5.8},{"l":1,"x":7.8,"y":4.5},{"l":1,"x":7.4,"y":2.7},{"l":1,"x":5.7,"y":0.7},{"l":1,"x":4.5,"y":-1.3},{"l":1,"x":2.8,"y":-3.6},{"l":1,"x":0,"y":-4.8},{"l":1,"x":-2.2,"y":-6.3},{"l":1,"x":-3.5,"y":-7.4},{"l":1,"x":-5,"y":-7.7},{"l":1,"x":-6.6,"y":-6.7},{"l":1,"x":-7.6,"y":-4.7},{"l":1,"x":-7.4,"y":-3},{"l":1,"x":-6.5,"y":-1.2},{"l":1,"x":-7,"y":0},{"l":1,"x":-8.5,"y":1.3},
{"l":2,"x":-8.4,"y":3},{"l":2,"x":-7.9,"y":4.6},{"l":2,"x":-6.8,"y":5.2},{"l":2,"x":-5.5,"y":5.3},{"l":2,"x":-3.6,"y":4.9},{"l":2,"x":-1.3,"y":3.6},{"l":2,"x":0.6,"y":3.4},{"l":2,"x":2.6,"y":4.3},{"l":2,"x":4.8,"y":5.4},{"l":2,"x":6.4,"y":5},{"l":2,"x":7,"y":3.8},{"l":2,"x":6.5,"y":2.5},{"l":2,"x":5,"y":0.5},{"l":2,"x":3.8,"y":-1.7},{"l":2,"x":2.3,"y":-3.5},{"l":2,"x":0,"y":-4.2},{"l":2,"x":-2.5,"y":-5.7},{"l":2,"x":-3.7,"y":-6.9},{"l":2,"x":-5,"y":-7.1},{"l":2,"x":-6.2,"y":-6.2},{"l":2,"x":-6.9,"y":-4.5},{"l":2,"x":-6.7,"y":-2.8},{"l":2,"x":-5.5,"y":-1},{"l":2,"x":-5.5,"y":0.2},{"l":2,"x":-7.5,"y":1.2},
{"l":3,"x":-7.6,"y":2.8},{"l":3,"x":-7,"y":4.2},{"l":3,"x":-5.7,"y":4.7},{"l":3,"x":-3.8,"y":4.1},{"l":3,"x":-1.8,"y":2.9},{"l":3,"x":0.5,"y":2.6},{"l":3,"x":2.6,"y":3.5},{"l":3,"x":4.8,"y":4.6},{"l":3,"x":6.1,"y":4},{"l":3,"x":5.9,"y":2.7},{"l":3,"x":4.5,"y":0.4},{"l":3,"x":3.3,"y":-1.9},{"l":3,"x":1.6,"y":-3.3},{"l":3,"x":-0.5,"y":-3.7},{"l":3,"x":-2.8,"y":-4.9},{"l":3,"x":-3.8,"y":-6.2},{"l":3,"x":-5,"y":-6.5},{"l":3,"x":-5.9,"y":-5.4},{"l":3,"x":-6.2,"y":-3.8},{"l":3,"x":-5.2,"y":-2},{"l":3,"x":-4.4,"y":-1},{"l":3,"x":-4.3,"y":0.8},{"l":3,"x":-6.3,"y":1},
{"l":4,"x":-6.9,"y":2.8},{"l":4,"x":-6,"y":4},{"l":4,"x":-4.5,"y":4},{"l":4,"x":-2.7,"y":3},{"l":4,"x":-0.5,"y":2.1},{"l":4,"x":1.5,"y":2.3},{"l":4,"x":3.2,"y":3},{"l":4,"x":4.8,"y":3.6},{"l":4,"x":5,"y":2.8},{"l":4,"x":4,"y":1},{"l":4,"x":2.8,"y":-1.7},{"l":4,"x":1.2,"y":-3},{"l":4,"x":-0.8,"y":-3.3},{"l":4,"x":-3,"y":-4.1},{"l":4,"x":-4,"y":-5.6},{"l":4,"x":-5,"y":-5.7},{"l":4,"x":-5.6,"y":-4},{"l":4,"x":-4.6,"y":-2.4},{"l":4,"x":-3.6,"y":-1},{"l":4,"x":-3.5,"y":0.8},{"l":4,"x":-5,"y":1.2},
{"l":5,"x":-6,"y":2.7},{"l":5,"x":-5.2,"y":3.7},{"l":5,"x":-3.8,"y":3.4},{"l":5,"x":-3,"y":2.5},{"l":5,"x":-3.7,"y":1.5},{"l":5,"x":-5.2,"y":1.5},
{"l":5.1,"x":-3,"y":-0.5},{"l":5.1,"x":-2.6,"y":0.6},{"l":5.1,"x":-1,"y":1.2},{"l":5.1,"x":1,"y":1.3},{"l":5.1,"x":2.2,"y":0.3},{"l":5.1,"x":2,"y":-2},{"l":5.1,"x":0.6,"y":-2.9},{"l":5.1,"x":-1.5,"y":-2.6},{"l":5.1,"x":-2.5,"y":-2},
{"l":5.2,"x":-5.1,"y":-3.4},{"l":5.2,"x":-4.5,"y":-2.8},{"l":5.2,"x":-3.6,"y":-3.4},{"l":5.2,"x":-3.6,"y":-4.6},{"l":5.2,"x":-4.3,"y":-5.2},{"l":5.2,"x":-5,"y":-4.6},
{"l":6,"x":-5.5,"y":2.5},{"l":6,"x":-4.8,"y":3.2},{"l":6,"x":-3.9,"y":2.9},{"l":6,"x":-3.6,"y":2.3},{"l":6,"x":-4.3,"y":1.9},{"l":6,"x":-5.1,"y":2},
{"l":6.1,"x":-1.8,"y":-0.7},{"l":6.1,"x":-1,"y":0.4},{"l":6.1,"x":0.6,"y":0.5},{"l":6.1,"x":1.4,"y":-0.4},{"l":6.1,"x":1.1,"y":-1.7},{"l":6.1,"x":-0.3,"y":-2.1},{"l":6.1,"x":-1.3,"y":-1.8}],
"p6":[{"x":-7.9,"y":4.2},{"x":-6.8,"y":4.7},{"x":-6.5,"y":5.2},{"x":-6.5,"y":4.2},{"x":-7.5,"y":3.3},{"x":-7.6,"y":2.4},{"x":-6.4,"y":3.5},{"x":-6.4,"y":3.3},{"x":-6.5,"y":2.5},{"x":-5.9,"y":2.9},{"x":-5.6,"y":2.7},{"x":-5.5,"y":2.4},{"x":-5.7,"y":2.2},{"x":-5.9,"y":1.5},{"x":-4.6,"y":2.9},{"x":-4.5,"y":3.2},{"x":-4.3,"y":3},{"x":-4.5,"y":2.6},{"x":-4.3,"y":2.5},{"x":-4.7,"y":2.5},{"x":-4.4,"y":4.4},{"x":-4.7,"y":1.9},{"x":-4.1,"y":2.5},{"x":-3.2,"y":3.2},{"x":-3.4,"y":1.9},{"x":-3.5,"y":1.2},{"x":-2.4,"y":2.5},{"x":-2,"y":3.5},{"x":-2.4,"y":1.3},{"x":-5.9,"y":0.1},{"x":-6.5,"y":-1},{"x":-3.1,"y":-0.1},{"x":-3,"y":-0.5},{"x":-2.3,"y":-0.5},{"x":-2,"y":-0.2},{"x":-1.8,"y":-0.4},{"x":-2.6,"y":-1.6},{"x":-3.2,"y":-2.1},{"x":-1.5,"y":-1.6},{"x":-0.9,"y":-1.8},{"x":-1.2,"y":0.9},{"x":-0.3,"y":0.9},{"x":-1.1,"y":2.1},{"x":-0.5,"y":-1.7},{"x":-0.3,"y":1.8},{"x":0.3,"y":2.5},{"x":0.2,"y":-0.3},{"x":0.3,"y":-0.7},{"x":0.6,"y":-0.9},{"x":-0.1,"y":-0.9},{"x":0.1,"y":-1.5},{"x":1.1,"y":-0.2},{"x":0.8,"y":-0.6},{"x":1,"y":-1.3},{"x":0.7,"y":-2},{"x":-0.2,"y":-2.7},{"x":0.1,"y":-2.8},{"x":0.5,"y":-2.4},{"x":1.1,"y":-2.9},{"x":1.6,"y":-2.6},{"x":1.8,"y":-2},{"x":2,"y":-0.5},{"x":1.4,"y":0.4},{"x":0.9,"y":1.5},{"x":1.3,"y":1.6},{"x":1.4,"y":1},{"x":1.8,"y":2.3},{"x":2.6,"y":2},{"x":2.6,"y":1.1},{"x":3.5,"y":2.5},{"x":3.7,"y":2.5},{"x":3.6,"y":3.7},{"x":3.8,"y":3.6},{"x":3.1,"y":-1.6},{"x":4,"y":4.1},{"x":4.7,"y":3.9},{"x":4.8,"y":3.1},{"x":4.7,"y":5.2},{"x":5.4,"y":4},{"x":5.6,"y":3.5},{"x":6.2,"y":3.3},{"x":6,"y":3},{"x":6.4,"y":4.7},{"x":5.2,"y":1.6},{"x":5.4,"y":1.7},{"x":5.5,"y":1},{"x":4.9,"y":0.5},{"x":4.9,"y":1.5},{"x":4.6,"y":-3.2},{"x":1,"y":-4},{"x":-5.3,"y":-3},{"x":-5.5,"y":-3.4},{"x":-4.9,"y":-2.5},{"x":-4.4,"y":-2.4},{"x":-5,"y":-3.4},{"x":-4.9,"y":-3.5},{"x":-4.6,"y":-3.6},{"x":-4.4,"y":-4},{"x":-5.2,"y":-4.3},{"x":-4.6,"y":-4.9},{"x":-4.4,"y":-5.6},{"x":-4.4,"y":-5.9},{"x":-5.3,"y":-5.4},{"x":-4.8,"y":-6},{"x":-3.8,"y":-6.1},{"x":-3.5,"y":-5.5},{"x":-3.1,"y":-4.3},{"x":-3,"y":-4.6},{"x":-3.3,"y":-4.8},{"x":-4.2,"y":-6.7},{"x":-3.2,"y":-6.8},{"x":-3.3,"y":-2.2}]},
"concat":[
{"title":"Mixture n°1, with 8 modes","width":208,"height":175,"encoding":{"x":{"field":"x","type":"quantitative","title":"x1","scale":{"domain":[-12.25,10.97],"nice":false,"zero":false},"axis":{"values":[-10,-5,0,5,10]}},"y":{"field":"y","type":"quantitative","title":"x2","scale":{"domain":[-12.65,13.14],"nice":false,"zero":false},"axis":{"values":[-10,-5,0,5,10]}}},"layer":[{"data":{"name":"c1"},"mark":{"type":"line","filled":true,"interpolate":"cardinal-closed","strokeWidth":0},"encoding":{"order":{"value":null},"color":{"field":"l","type":"nominal","legend":null,"scale":{"domain":[0,1,2,3,3.1,4,4.1,5,6,7],"range":["#f2c0c2","#f3b0b3","#f5a0a4","#f78a8e","#f78a8e","#fa6c70","#fa6c70","#fb474b","#e23c42","#9c666a"]}}}},{"data":{"name":"p1"},"mark":{"type":"point","shape":"M-1,-1L1,1M-1,1L1,-1","size":22,"filled":false,"stroke":"#000","strokeWidth":0.6,"opacity":0.6}}]},
{"title":"Mixture n°2, with 6 modes","width":208,"height":175,"encoding":{"x":{"field":"x","type":"quantitative","title":"x1","scale":{"domain":[-12.18,14.95],"nice":false,"zero":false},"axis":{"values":[-10,0,10]}},"y":{"field":"y","type":"quantitative","title":"x2","scale":{"domain":[-12.56,12.3],"nice":false,"zero":false},"axis":{"values":[-10,-5,0,5,10]}}},"layer":[{"data":{"name":"c2"},"mark":{"type":"line","filled":true,"interpolate":"cardinal-closed","strokeWidth":0},"encoding":{"order":{"value":null},"color":{"field":"l","type":"nominal","legend":null,"scale":{"domain":[0,1,1.1,2,3,3.1,4,4.1,5,5.1,6,6.1],"range":["#b4cdea","#9fc6ec","#9fc6ec","#86bdee","#66b0ee","#66b0ee","#4aa6ee","#4aa6ee","#4090d0","#4090d0","#647c94","#647c94"]}}}},{"data":{"name":"p2"},"mark":{"type":"point","shape":"M-1,-1L1,1M-1,1L1,-1","size":22,"filled":false,"stroke":"#000","strokeWidth":0.6,"opacity":0.6}}]},
{"title":"Mixture n°3, with 3 modes","width":208,"height":175,"encoding":{"x":{"field":"x","type":"quantitative","title":"x1","scale":{"domain":[-6.5,9.95],"nice":false,"zero":false},"axis":{"values":[-5,0,5,10]}},"y":{"field":"y","type":"quantitative","title":"x2","scale":{"domain":[-13.9,14.9],"nice":false,"zero":false},"axis":{"values":[-10,-5,0,5,10]}}},"layer":[{"data":{"name":"c3"},"mark":{"type":"line","filled":true,"interpolate":"cardinal-closed","strokeWidth":0},"encoding":{"order":{"value":null},"color":{"field":"l","type":"nominal","legend":null,"scale":{"domain":[0,1,2,3,4,5,5.1,5.2,6,6.1],"range":["#83d27f","#74c571","#66b264","#5c9e5a","#4f8850","#4a7a4c","#4a7a4c","#4a7a4c","#46684a","#46684a"]}}}},{"data":{"name":"p3"},"mark":{"type":"point","shape":"M-1,-1L1,1M-1,1L1,-1","size":22,"filled":false,"stroke":"#000","strokeWidth":0.6,"opacity":0.6}}]},
{"title":"Mixture n°4, with 4 modes","width":208,"height":175,"encoding":{"x":{"field":"x","type":"quantitative","title":"x1","scale":{"domain":[-10.48,11.14],"nice":false,"zero":false},"axis":{"values":[-10,-5,0,5,10]}},"y":{"field":"y","type":"quantitative","title":"x2","scale":{"domain":[-11.65,9.88],"nice":false,"zero":false},"axis":{"values":[-10,-7.5,-5,-2.5,0,2.5,5,7.5],"format":".1f"}}},"layer":[{"data":{"name":"c4"},"mark":{"type":"line","filled":true,"interpolate":"cardinal-closed","strokeWidth":0},"encoding":{"order":{"value":null},"color":{"field":"l","type":"nominal","legend":null,"scale":{"domain":[0,1,1.1,2,2.1,3,3.1,3.2,4,4.1,5,6],"range":["#e2c8e7","#dcb6e2","#dcb6e2","#d7a4dd","#d7a4dd","#d088d8","#d088d8","#d088d8","#c76ccd","#c76ccd","#a85cb0","#7f6a83"]}}}},{"data":{"name":"p4"},"mark":{"type":"point","shape":"M-1,-1L1,1M-1,1L1,-1","size":22,"filled":false,"stroke":"#000","strokeWidth":0.6,"opacity":0.6}}]},
{"title":"Mixture n°5, with 7 modes","width":208,"height":175,"encoding":{"x":{"field":"x","type":"quantitative","title":"x1","scale":{"domain":[-10.42,11.25],"nice":false,"zero":false},"axis":{"values":[-10,-5,0,5,10]}},"y":{"field":"y","type":"quantitative","title":"x2","scale":{"domain":[-12.1,11.3],"nice":false,"zero":false},"axis":{"values":[-10,-5,0,5,10]}}},"layer":[{"data":{"name":"c5"},"mark":{"type":"line","filled":true,"interpolate":"cardinal-closed","strokeWidth":0},"encoding":{"order":{"value":null},"color":{"field":"l","type":"nominal","legend":null,"scale":{"domain":[0,1,2,3,4,5,5.1,6,6.1,7],"range":["#f2bba6","#f4a882","#f59a5c","#f68d35","#e28530","#bd7e40","#bd7e40","#9c7a58","#9c7a58","#85725f"]}}}},{"data":{"name":"p5"},"mark":{"type":"point","shape":"M-1,-1L1,1M-1,1L1,-1","size":22,"filled":false,"stroke":"#000","strokeWidth":0.6,"opacity":0.6}}]},
{"title":"Mixture n°6, with 8 modes","width":208,"height":175,"encoding":{"x":{"field":"x","type":"quantitative","title":"x1","scale":{"domain":[-13,11.4],"nice":false,"zero":false},"axis":{"values":[-10,-5,0,5,10]}},"y":{"field":"y","type":"quantitative","title":"x2","scale":{"domain":[-10.7,9.36],"nice":false,"zero":false},"axis":{"values":[-10,-7.5,-5,-2.5,0,2.5,5,7.5],"format":".1f"}}},"layer":[{"data":{"name":"c6"},"mark":{"type":"line","filled":true,"interpolate":"cardinal-closed","strokeWidth":0},"encoding":{"order":{"value":null},"color":{"field":"l","type":"nominal","legend":null,"scale":{"domain":[0,1,2,3,4,5,5.1,5.2,6,6.1],"range":["#cbc970","#bdbb55","#aaaa45","#9a9a40","#8a8a3e","#7a7a45","#7a7a45","#7a7a45","#6a6d55","#6a6d55"]}}}},{"data":{"name":"p6"},"mark":{"type":"point","shape":"M-1,-1L1,1M-1,1L1,-1","size":22,"filled":false,"stroke":"#000","strokeWidth":0.6,"opacity":0.6}}]}
]}
